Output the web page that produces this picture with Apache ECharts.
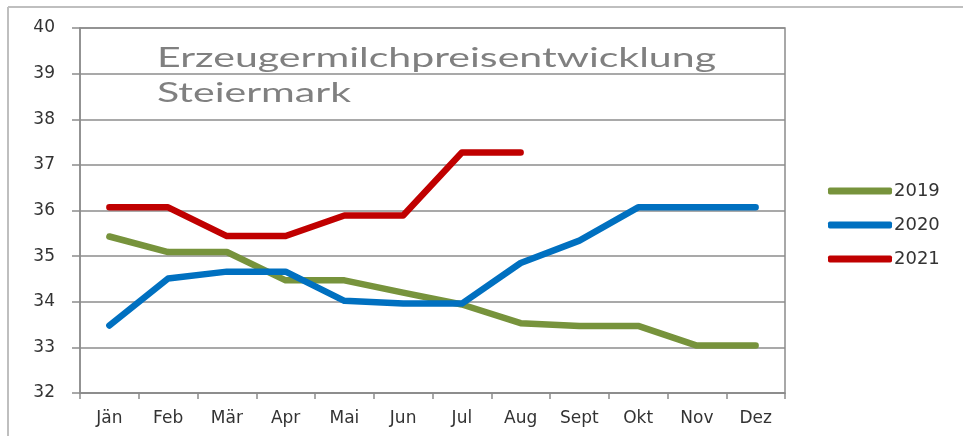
<!DOCTYPE html>
<html>
<head>
<meta charset="utf-8">
<script src="https://cdn.jsdelivr.net/npm/echarts@6/dist/echarts.min.js"></script>
<style>html,body{margin:0;padding:0;background:#fff}#c{width:963px;height:436px}</style>
</head>
<body>
<div id="c"></div>
<script>
var months = ['Jän','Feb','Mär','Apr','Mai','Jun','Jul','Aug','Sept','Okt','Nov','Dez'];
var s2019 = [35.43, 35.09, 35.09, 34.47, 34.47, 34.2, 33.94, 33.53, 33.47, 33.47, 33.04, 33.04];
var s2020 = [33.48, 34.51, 34.66, 34.66, 34.02, 33.96, 33.96, 34.85, 35.34, 36.07, 36.07, 36.07];
var s2021 = [36.07, 36.07, 35.44, 35.44, 35.89, 35.89, 37.27, 37.27];
var seriesNames = ['2019','2020','2021'];
var titleLines = ['Erzeugermilchpreisentwicklung','Steiermark'];

var chart = echarts.init(document.getElementById('c'));
var gray = '#8c8c8c';
var lblFont = '"DejaVu Sans", sans-serif';
function mk(name, data, color){
  return {name:name, type:'line', data:data, symbol:'none', smooth:false,
    lineStyle:{width:6.5, color:color, cap:'round', join:'round'}, itemStyle:{color:color}};
}
var cv = document.createElement('canvas').getContext('2d');
cv.font = '26px Lato';
var sx = 559 / cv.measureText(titleLines[0]).width;

chart.setOption({
  animation:false,
  backgroundColor:'#fff',
  grid:{left:80, right:178, top:28, bottom:43, show:true, borderColor:gray, borderWidth:1.5},
  legend:{orient:'vertical', left:823, top:177, itemWidth:64, itemHeight:7, itemGap:16,
    icon:'roundRect', data:seriesNames,
    textStyle:{fontFamily:lblFont, fontSize:18, color:'#333', padding:[0,0,0,-3]}},
  xAxis:{type:'category', data:months, boundaryGap:true,
    axisLine:{lineStyle:{color:gray, width:1.5}},
    axisTick:{show:true, length:6, interval:0, lineStyle:{color:gray, width:1.5}},
    axisLabel:{interval:0, margin:17, fontFamily:lblFont, fontSize:17, color:'#333'}},
  yAxis:{type:'value', min:32, max:40, interval:1,
    axisLine:{show:true, lineStyle:{color:gray, width:1.5}},
    axisTick:{show:true, length:8, lineStyle:{color:gray, width:1.5}},
    axisLabel:{margin:25, fontFamily:lblFont, fontSize:17, color:'#333'},
    splitLine:{lineStyle:{color:gray, width:1.5}}},
  graphic:[
    {type:'line', shape:{x1:8, y1:7, x2:963, y2:7}, style:{stroke:'#bfbfbf', lineWidth:2}},
    {type:'line', shape:{x1:8, y1:7, x2:8, y2:436}, style:{stroke:'#bfbfbf', lineWidth:2}},
    {type:'text', x:157, y:72, scaleX:sx, style:{text:titleLines[0], fontFamily:'Lato', fontSize:26, fill:'#808080', textVerticalAlign:'bottom'}},
    {type:'text', x:157, y:107, scaleX:sx, style:{text:titleLines[1], fontFamily:'Lato', fontSize:26, fill:'#808080', textVerticalAlign:'bottom'}}
  ],
  series:[mk(seriesNames[0], s2019, '#77933C'), mk(seriesNames[1], s2020, '#0070C0'), mk(seriesNames[2], s2021, '#C00000')]
});
</script>
</body>
</html>
